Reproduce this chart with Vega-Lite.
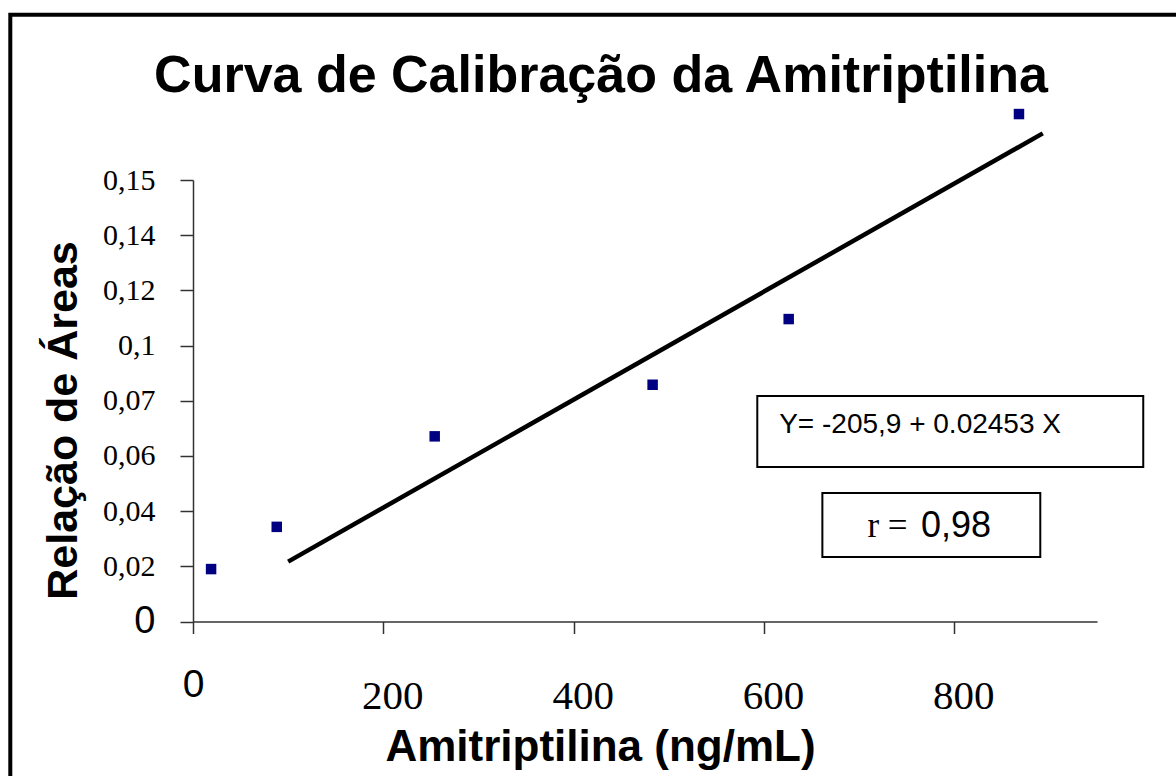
{
  "$schema": "https://vega.github.io/schema/vega-lite/v6.json",
  "autosize": {"type": "none"},
  "padding": {"left": 193, "top": 180, "right": 79, "bottom": 154.5},
  "width": 904,
  "height": 441.5,
  "background": "white",
  "config": {"view": {"stroke": null}},
  "title": {
    "text": "Curva de Calibração da Amitriptilina",
    "font": "Liberation Sans",
    "fontWeight": "bold",
    "fontSize": 52,
    "color": "black",
    "anchor": "middle",
    "frame": "group",
    "baseline": "alphabetic",
    "dx": -44,
    "offset": -131
  },
  "datasets": {
    "points": [
      {"x": 19, "y": 0.0190},
      {"x": 88, "y": 0.0343},
      {"x": 254, "y": 0.0671},
      {"x": 483, "y": 0.0858},
      {"x": 626, "y": 0.1096},
      {"x": 868, "y": 0.1839}
    ],
    "fit": [
      {"x": 100, "y": 0.0217},
      {"x": 893, "y": 0.1769}
    ],
    "frame": [
      {"x": -192, "x2": 1150, "y": 0.2199, "y2": -0.1}
    ],
    "boxes": [
      {"x": 593, "x2": 998.6, "y": 0.0817, "y2": 0.056},
      {"x": 661.4, "x2": 890.4, "y": 0.0466, "y2": 0.0234}
    ],
    "eq": [{"x": 616, "y": 0.0683, "label": "Y= -205,9 + 0.02453 X"}],
    "r1": [{"x": 708.7, "y": 0.0306, "label": "r ="}],
    "r2": [{"x": 765, "y": 0.0306, "label": "0,98"}]
  },
  "encoding": {
    "x": {
      "field": "x",
      "type": "quantitative",
      "scale": {"domain": [0, 950], "nice": false, "zero": false},
      "axis": {
        "values": [0, 200, 400, 600, 800],
        "grid": false,
        "domainColor": "#333333",
        "domainWidth": 1.5,
        "tickColor": "#333333",
        "tickWidth": 1.5,
        "tickSize": 12,
        "labelColor": "black",
        "labelFont": {"condition": {"test": "datum.value == 0", "value": "Liberation Sans"}, "value": "Liberation Serif"},
        "labelFontSize": {"condition": {"test": "datum.value == 0", "value": 39}, "value": 41},
        "labelPadding": {"condition": {"test": "datum.value == 0", "value": 32}, "value": 43},
        "labelOffset": {"condition": {"test": "datum.value == 0", "value": 0}, "value": 9},
        "labelBaseline": "top",
        "labelFlush": false,
        "labelOverlap": false,
        "title": "Amitriptilina (ng/mL)",
        "titleFont": "Liberation Sans",
        "titleFontWeight": "bold",
        "titleFontSize": 44,
        "titleColor": "black",
        "titleX": 407,
        "titleY": 138.5,
        "titleBaseline": "alphabetic",
        "titleAlign": "center"
      }
    },
    "y": {
      "field": "y",
      "type": "quantitative",
      "scale": {"domain": [0, 0.16], "nice": false, "zero": false},
      "axis": {
        "values": [0, 0.02, 0.04, 0.06, 0.08, 0.1, 0.12, 0.14, 0.16],
        "labelExpr": "round(datum.value*100)==0 ? '0' : round(datum.value*100)==8 ? '0,07' : round(datum.value*100)==10 ? '0,1' : round(datum.value*100)==16 ? '0,15' : replace(format(datum.value, '.2f'), '.', ',')",
        "grid": false,
        "domainColor": "#333333",
        "domainWidth": 1.5,
        "tickColor": "#333333",
        "tickWidth": 1.5,
        "tickSize": 13,
        "labelColor": "black",
        "labelFont": {"condition": {"test": "datum.value == 0", "value": "Liberation Sans"}, "value": "Liberation Serif"},
        "labelFontSize": {"condition": {"test": "datum.value == 0", "value": 38}, "value": 30},
        "labelPadding": 25,
        "labelAlign": "right",
        "labelBaseline": "middle",
        "labelFlush": false,
        "labelOverlap": false,
        "title": "Relação de Áreas",
        "titleFont": "Liberation Sans",
        "titleFontWeight": "bold",
        "titleFontSize": 43,
        "titleColor": "black",
        "titleX": -117,
        "titleY": 240,
        "titleAngle": 270,
        "titleBaseline": "alphabetic",
        "titleAlign": "center"
      }
    }
  },
  "layer": [
    {
      "data": {"name": "frame"},
      "mark": {"type": "rect", "fill": "transparent", "stroke": "black", "strokeWidth": 4},
      "encoding": {"x2": {"field": "x2"}, "y2": {"field": "y2"}}
    },
    {
      "data": {"name": "boxes"},
      "mark": {"type": "rect", "fill": "white", "stroke": "black", "strokeWidth": 2},
      "encoding": {"x2": {"field": "x2"}, "y2": {"field": "y2"}}
    },
    {
      "data": {"name": "eq"},
      "mark": {"type": "text", "font": "Liberation Sans", "fontSize": 28, "align": "left", "baseline": "alphabetic", "color": "black"},
      "encoding": {"text": {"field": "label"}}
    },
    {
      "data": {"name": "r1"},
      "mark": {"type": "text", "font": "Liberation Serif", "fontSize": 35, "align": "left", "baseline": "alphabetic", "color": "black"},
      "encoding": {"text": {"field": "label"}}
    },
    {
      "data": {"name": "r2"},
      "mark": {"type": "text", "font": "Liberation Sans", "fontSize": 36, "align": "left", "baseline": "alphabetic", "color": "black"},
      "encoding": {"text": {"field": "label"}}
    },
    {
      "data": {"name": "fit"},
      "mark": {"type": "line", "color": "black", "strokeWidth": 4.5, "strokeCap": "butt"},
      "encoding": {}
    },
    {
      "data": {"name": "points"},
      "mark": {"type": "point", "shape": "square", "filled": true, "size": 110, "color": "#000080", "opacity": 1},
      "encoding": {}
    }
  ]
}
